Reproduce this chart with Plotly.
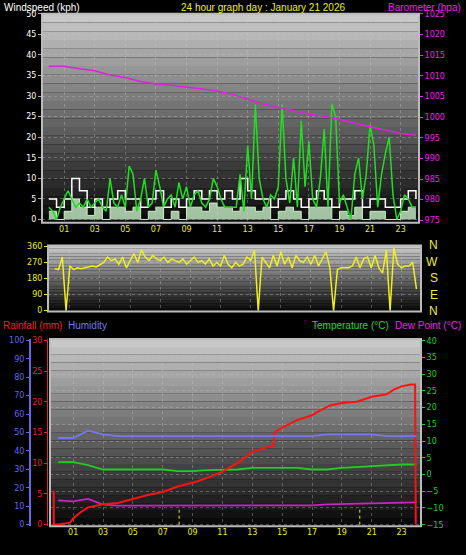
import plotly.graph_objects as go

W, H = 466, 555
hours_q = [i * 0.25 for i in range(97)]
hours_h = [i * 0.5 for i in range(49)]
hours_1 = list(range(25))

wind_avg = [5,3,5,10,7,3,5,3,5,7,5,5,3,5,7,3,5,3,5,7,5,7,5,7,5,10,7,5,5,3,5,7,5,3,5,7,5,3,5,5,7,3,5,5,3,3,5,7,5]
wind_low = [2,0,2,5,3,1,3,0,3,3,2,3,0,2,3,0,2,0,3,3,2,4,3,3,2,3,3,2,3,0,2,3,2,0,3,3,3,0,2,1,3,0,2,2,0,0,2,3,3]
gust = [3,2,0,3, 5,7,5,3, 4,3,5,3, 4,5,3,2, 10,4,3,6, 3,13,11,2, 5,10,3,4, 12,8,3,5,
        6,3,9,5, 8,3,6,7, 4,3,5,10, 8,5,3,3, 3,3,11,2, 18,5,28,10, 5,3,6,5, 8,28,10,4,
        15,3,24,8, 19,5,3,10, 22,3,28,25, 4,6,3,0, 11,15,5,11, 23,18,3,11, 16,20,6,0, 2,6,5,3, 3]
baro = [1012.3,1012.3,1011.7,1011.2,1010.2,1009.6,1008.6,1008.0,1007.7,1007.3,1006.8,1006.3,1005.5,
        1004.3,1003.2,1002.4,1001.6,1000.7,1000.2,999.5,998.5,997.7,996.9,996.0,995.6]
wdir = [235,230,300,0, 250,230,240,235, 240,245,250,245, 260,270,300,280, 290,260,300,240,
        280,320,270,340, 300,280,310,290, 280,300,270,290, 280,270,290,260, 280,300,270,280,
        260,290,250,270, 250,310,260,240, 270,250,260,300, 280,340,0,300, 270,240,310,250,
        330,260,300,240, 310,280,270,300, 260,310,250,290, 330,240,0,230, 240,240,240,250,
        300,240,290,300, 240,310,240,210, 340,0,350,260, 240,250,250,270, 120]
humidity = [47,47,51,49,48,48,48,48,48,48,48,48,48,48,48,48,48,48,49,49,49,49,48,48,48]
temperature = [3.7,3.7,2.8,1.5,1.5,1.5,1.5,1.5,1.0,1.0,1.3,1.5,1.5,2.0,2.0,2.0,2.0,1.5,1.5,2.0,2.3,2.5,2.8,3.0,3.0]
dewpoint = [-7.7,-8.0,-7.3,-9.0,-9.3,-9.3,-9.2,-9.2,-9.4,-9.4,-9.4,-9.4,-9.2,-9.2,-9.2,-9.2,-9.2,-9.2,-8.9,-8.8,-8.5,-8.6,-8.3,-8.3,-8.3]
rain_x = [-0.3,-0.3,0.0,0.8,1.0,1.5,2.0,3.0,4.0,5.0,6.0,7.0,8.0,9.0,10.0,11.0,12.0,12.5,13.0,14.0,14.4,14.5,15.0,16.0,17.0,17.5,18.2,19.0,20.0,21.0,22.0,22.5,23.0,23.6,23.9,23.95]
rain = [5.5,0,0,0.3,1.0,2.0,2.8,3.3,3.5,4.2,4.8,5.3,6.2,6.8,7.6,8.6,10.0,10.9,11.8,12.6,12.8,15.0,15.8,17.0,17.8,18.5,19.4,19.8,20.0,20.8,21.2,22.0,22.5,22.8,22.8,0]
xticks = [1,3,5,7,9,11,13,15,17,19,21,23]
xticklabels = ["%02d" % h for h in xticks]

def px(x): return x / W
def py(y): return 1 - y / H

FONT = dict(family="DejaVu Sans", size=8)
fig = go.Figure()

fig.add_trace(go.Scatter(x=hours_h, y=wind_low, mode="lines", line=dict(color="#c8f0c8", width=1, shape="hv"),
                         fill="tozeroy", fillcolor="rgba(200,240,200,0.8)", xaxis="x", yaxis="y"))
fig.add_trace(go.Scatter(x=hours_h, y=wind_avg, mode="lines", line=dict(color="white", width=1.5, shape="hv"), xaxis="x", yaxis="y"))
fig.add_trace(go.Scatter(x=hours_q, y=gust, mode="lines", line=dict(color="#22dd22", width=1.5), xaxis="x", yaxis="y"))
fig.add_trace(go.Scatter(x=hours_1, y=baro, mode="lines", line=dict(color="#dd22dd", width=1.5), xaxis="x", yaxis="y2"))
fig.add_trace(go.Scatter(x=hours_q, y=wdir, mode="lines", line=dict(color="#eeee22", width=1.5), xaxis="x2", yaxis="y3"))
fig.add_trace(go.Scatter(x=hours_1, y=temperature, mode="lines", line=dict(color="#22cc22", width=1.8), xaxis="x3", yaxis="y4"))
fig.add_trace(go.Scatter(x=hours_1, y=dewpoint, mode="lines", line=dict(color="#cc22cc", width=1.8), xaxis="x3", yaxis="y4"))
fig.add_trace(go.Scatter(x=hours_1, y=humidity, mode="lines", line=dict(color="#7777ee", width=1.8), xaxis="x3", yaxis="y6"))
fig.add_trace(go.Scatter(x=rain_x, y=rain, mode="lines", line=dict(color="#ff1111", width=2), xaxis="x3", yaxis="y5"))
for h in [8.1, 20.2]:
    fig.add_trace(go.Scatter(x=[h, h], y=[-15, -10.5], mode="lines", line=dict(color="#eeee22", width=1, dash="dot"), xaxis="x3", yaxis="y4"))

P1 = (42, 419, 10, 222)
P2 = (48, 421, 245, 312)
P3 = (50, 421, 340, 530)
shapes = []
for (x0, x1, y0, y1) in [P1, P2, P3]:
    n = 24
    for i in range(n):
        t = i / (n - 1)
        g = int(200 - 190 * t)
        shapes.append(dict(type="rect", xref="paper", yref="paper", layer="below", line=dict(width=0),
                           x0=px(x0), x1=px(x1), y0=py(y0 + (y1 - y0) * i / n), y1=py(y0 + (y1 - y0) * (i + 1) / n),
                           fillcolor="rgb(%d,%d,%d)" % (g, g, g)))
    shapes.append(dict(type="rect", xref="paper", yref="paper", layer="above", line=dict(color="#bbbbbb", width=2),
                       x0=px(x0), x1=px(x1), y0=py(y1), y1=py(y0)))

grid = "rgba(200,200,200,0.35)"
def xax(dom, anchor, rng, show_labels=True):
    return dict(domain=dom, anchor=anchor, range=rng, tickvals=xticks, ticktext=xticklabels, showgrid=True, gridcolor=grid,
                griddash="dot", tickfont=dict(color="#eeee22", **FONT), zeroline=False, showticklabels=show_labels, ticks="")

fig.update_layout(
    width=W, height=H, margin=dict(l=0, r=0, t=0, b=0), paper_bgcolor="black", plot_bgcolor="rgba(0,0,0,0)",
    showlegend=False, shapes=shapes,
    xaxis=xax([px(P1[0]), px(P1[1])], "y", [-0.45, 24.2]),
    yaxis=dict(domain=[py(P1[3]), py(P1[2])], range=[-0.8, 50], dtick=5, tickfont=dict(color="white", **FONT),
               showgrid=True, gridcolor=grid, griddash="dot", zeroline=False, ticks="outside", ticklen=3, tickcolor="#aaaaaa"),
    yaxis2=dict(overlaying="y", side="right", range=[974.4, 1025], dtick=5, tickfont=dict(color="#ee22ee", **FONT),
                showgrid=False, zeroline=False, ticks="outside", ticklen=3, tickcolor="#ee22ee"),
    xaxis2=xax([px(P2[0]), px(P2[1])], "y3", [-0.45, 24.3], False),
    yaxis3=dict(domain=[py(P2[3]), py(P2[2])], anchor="x2", range=[-5, 365], tickvals=[0, 90, 180, 270, 360],
                tickfont=dict(color="#eeee22", **FONT), showgrid=True, gridcolor=grid, griddash="dot", zeroline=False,
                ticks="outside", ticklen=3, tickcolor="#eeee22"),
    xaxis3=xax([px(P3[0]), px(P3[1])], "y4", [-0.55, 24.3]),
    yaxis4=dict(domain=[py(P3[3]), py(P3[2])], anchor="x3", side="right", range=[-15.5, 40.5], dtick=5,
                tickfont=dict(color="#22cc22", **FONT), showgrid=True, gridcolor=grid, griddash="dot", zeroline=False,
                ticks="outside", ticklen=3, tickcolor="#22cc22"),
    yaxis5=dict(overlaying="y4", side="left", anchor="free", position=px(P3[0] - 3), range=[-0.3, 30.2], dtick=5,
                tickfont=dict(color="#ee2222", **FONT), showgrid=False, zeroline=False, ticks="outside", ticklen=3,
                tickcolor="#ee2222", showline=True, linecolor="#ee2222"),
    yaxis6=dict(overlaying="y4", side="left", anchor="free", position=px(30), range=[-1, 100.7], dtick=10,
                tickfont=dict(color="#6666ee", **FONT), showgrid=False, zeroline=False, ticks="outside", ticklen=3,
                tickcolor="#6666ee", showline=True, linecolor="#6666ee", linewidth=2),
)

TF = "Liberation Sans"
ann = [
    (2, 4, "Windspeed (kph)", "white", "left"),
    (263, 4, "24 hour graph day : January 21 2026", "#eeee22", "center"),
    (463, 4, "Barometer (hpa)", "#ee22ee", "right"),
    (1, 326, "Rainfall (mm)", "#ee2222", "left"),
    (66, 326, "Humidity", "#7777ee", "left"),
    (391, 326, "Temperature (°C)", "#22dd22", "right"),
    (463, 326, "Dew Point (°C)", "#ee22ee", "right"),
]
annotations = [dict(x=px(x), y=py(y), xref="paper", yref="paper", text=t, showarrow=False, xanchor=a, yanchor="middle",
                    font=dict(family=TF, size=10, color=c)) for x, y, t, c, a in ann]
for y, t in [(245, "N"), (262, "W"), (278, "S"), (295, "E"), (311, "N")]:
    annotations.append(dict(x=px(440), y=py(y), xref="paper", yref="paper", text=t, showarrow=False,
                            font=dict(family=TF, size=12, color="#eeee22")))
fig.update_layout(annotations=annotations)
fig.write_html("out.html", config={"displayModeBar": False},
               post_script="document.body.style.margin='0';document.body.style.background='black';")
